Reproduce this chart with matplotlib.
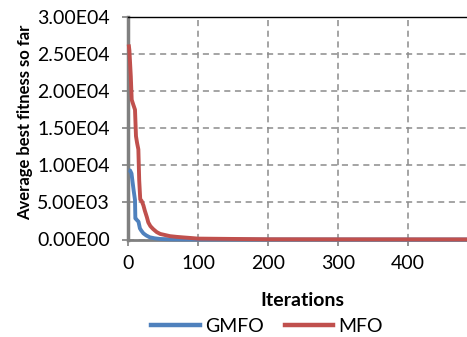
import matplotlib
matplotlib.use("Agg")
import matplotlib.pyplot as plt
from matplotlib.lines import Line2D

plt.rcParams['font.family'] = ['Lato', 'DejaVu Sans']

# GMFO (iteration, average best fitness)
gmfo_iter = [1, 3, 5, 7, 8, 10, 10.5, 12, 15, 17, 19, 22, 26, 31, 38, 46, 60, 80, 100, 200, 300, 400, 500]
gmfo_val = [9350, 9300, 8900, 7400, 6660, 5320, 2850, 2700, 2400, 1500, 1200, 830, 550, 300, 160, 70, 30, 10, 5, 2, 1, 1, 1]

# MFO (iteration, average best fitness)
mfo_iter = [1, 2, 4, 5.3, 7.6, 10, 11.4, 13, 14.8, 16, 17.5, 19.5, 22, 24, 27, 29, 32, 36, 41, 46, 53, 60, 70, 79, 90, 100, 200, 300, 400, 500]
mfo_val = [26300, 25500, 22000, 18840, 18170, 17500, 13930, 13000, 12150, 8000, 5400, 5200, 4600, 3900, 3000, 2300, 1800, 1400, 1000, 750, 600, 450, 350, 280, 200, 120, 30, 20, 15, 10]

xticks = [0, 100, 200, 300, 400]
yticks = [0, 5000, 10000, 15000, 20000, 25000, 30000]
ytick_labels = ["0.00E00", "5.00E03", "1.00E04", "1.50E04", "2.00E04", "2.50E04", "3.00E04"]

blue = '#4F81BD'
red = '#C0504D'

fig = plt.figure(figsize=(4.67, 3.37), dpi=100)
ax = fig.add_axes([128/467, 97.5/337, 350/467, 222.5/337])

ax.plot(gmfo_iter, gmfo_val, color=blue, lw=2.8, solid_capstyle='butt', zorder=3, clip_on=False)
ax.plot(mfo_iter, mfo_val, color=red, lw=2.8, solid_capstyle='butt', zorder=4, clip_on=False)

ax.set_xlim(0, 500)
ax.set_ylim(0, 30000)
ax.set_xticks(xticks)
ax.set_yticks(yticks)
ax.set_yticklabels(ytick_labels)
ax.tick_params(axis='both', labelsize=14, colors='#808080', length=4, width=1.2, labelcolor='black', direction='out')
ax.tick_params(axis='y', pad=9)
ax.tick_params(axis='x', pad=7)

ax.grid(True, color='#8C8C8C', linestyle=(0, (4, 3)), lw=1.1)
ax.set_axisbelow(True)

ax.spines['right'].set_visible(False)
ax.spines['top'].set_color('black')
ax.spines['top'].set_linewidth(1.0)
ax.spines['left'].set_color('#808080')
ax.spines['left'].set_linewidth(2.5)
ax.spines['bottom'].set_color('#808080')
ax.spines['bottom'].set_linewidth(2.0)

ax.set_ylabel("Average best fitness so far", fontsize=12, fontweight='bold')
ax.yaxis.set_label_coords(-(128 - 33) / 350, 0.527)
fig.text(302/467, 1 - 300/337, "Iterations", fontsize=14, fontweight='bold', ha='center', va='center')

handles = [Line2D([], [], color=blue, lw=3.2), Line2D([], [], color=red, lw=3.2)]
leg = fig.legend(handles, ["GMFO", "MFO"], loc='center', bbox_to_anchor=(267/467, 1 - 326/337),
                 ncol=2, frameon=False, fontsize=14, handlelength=2.5, handletextpad=0.25,
                 columnspacing=1.1, borderaxespad=0)

fig.savefig("out.png", dpi=100)
